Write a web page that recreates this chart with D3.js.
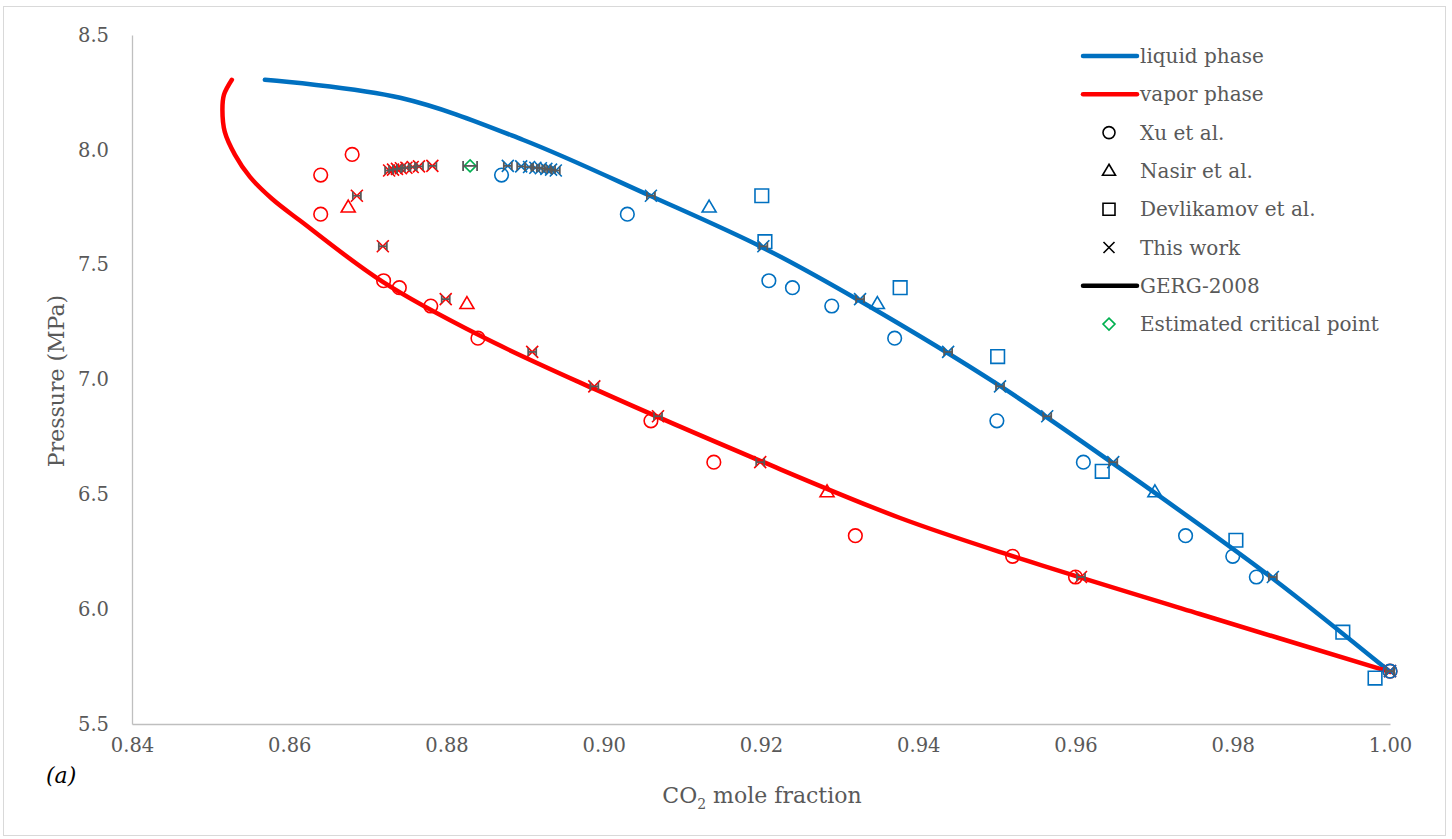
<!DOCTYPE html>
<html>
<head>
<meta charset="utf-8">
<script src="https://cdn.jsdelivr.net/npm/d3@7"></script>
<style>
  html, body { margin: 0; padding: 0; background: #fff; }
  svg { display: block; }
</style>
</head>
<body>
<svg id="chart" width="1452" height="839"></svg>
<script>
// ---------------- DATA ----------------
const xTicks = [0.84, 0.86, 0.88, 0.90, 0.92, 0.94, 0.96, 0.98, 1.00];
const yTicks = [5.5, 6.0, 6.5, 7.0, 7.5, 8.0, 8.5];

// Model curves (liquid / vapor phase)
const liquidX = [0.8569, 0.8741, 0.8897, 0.9059, 0.9203, 0.9326, 0.9504, 0.9701, 0.9850, 1.0000];
const liquidP = [8.305, 8.227, 8.044, 7.800, 7.573, 7.342, 6.972, 6.506, 6.136, 5.727];
const vaporX = [0.8527, 0.8517, 0.8515, 0.8518, 0.8531, 0.8550, 0.8578, 0.8614, 0.8719, 0.8843, 0.8988, 0.9199, 0.9377, 0.9524, 0.9758, 1.0000];
const vaporP = [8.305, 8.240, 8.174, 8.078, 7.978, 7.882, 7.787, 7.691, 7.425, 7.190, 6.959, 6.646, 6.397, 6.227, 5.979, 5.727];

// Xu et al.
const xuP      = [7.98, 7.89, 7.72, 7.43, 7.40, 7.32, 7.18, 6.82, 6.64, 6.32, 6.23, 6.14, 5.73];
const xuVapor  = [0.868, 0.864, 0.864, 0.872, 0.874, 0.878, 0.884, 0.906, 0.914, 0.932, 0.952, 0.960, 1.000];
const xuLiquid = [null, 0.887, 0.903, 0.921, 0.924, 0.929, 0.937, 0.950, 0.961, 0.974, 0.980, 0.983, 1.000];

// Nasir et al.
const nasirP      = [7.75, 7.33, 6.51];
const nasirVapor  = [0.8675, 0.8826, 0.9284];
const nasirLiquid = [0.9134, 0.9348, 0.9701];

// Devlikamov et al.
const devP      = [7.80, 7.60, 7.40, 7.10, 6.60, 6.30, 5.90, 5.70];
const devLiquid = [0.9201, 0.9205, 0.9377, 0.9501, 0.9634, 0.9804, 0.9940, 0.9981];

// This work
const thisP      = [7.930, 7.928, 7.925, 7.922, 7.920, 7.917, 7.914, 7.910, 7.80, 7.58, 7.35, 7.12, 6.97, 6.84, 6.64, 6.14, 5.73];
const thisVapor  = [0.8782, 0.8765, 0.8757, 0.8749, 0.8742, 0.8737, 0.8732, 0.8727, 0.8686, 0.8719, 0.8799, 0.8909, 0.8988, 0.9069, 0.9199, 0.9607, 1.000];
const thisLiquid = [0.8878, 0.8895, 0.8905, 0.8913, 0.8920, 0.8927, 0.8933, 0.8939, 0.9060, 0.9203, 0.9326, 0.9438, 0.9504, 0.9564, 0.9648, 0.9851, 1.000];

// Estimated critical point
const critX = [0.8830];
const critP = [7.93];

const legendLabels = ["liquid phase", "vapor phase", "Xu et al.", "Nasir et al.", "Devlikamov et al.", "This work", "GERG-2008", "Estimated critical point"];

// ---------------- STYLE ----------------
const BLUE = "#0070C0", RED = "#FF0000", GRAY = "#595959", GREEN = "#00B050";
const FONT = "DejaVu Serif";

const svg = d3.select("#chart");
const x = d3.scaleLinear().domain([0.84, 1.00]).range([132, 1390]);
const y = d3.scaleLinear().domain([5.5, 8.5]).range([724, 35]);

// outer border
svg.append("rect").attr("x", 3.5).attr("y", 6.5).attr("width", 1442).attr("height", 829)
  .attr("fill", "none").attr("stroke", "#d9d9d9").attr("stroke-width", 1);

// axes
const xAxis = svg.append("g").attr("transform", `translate(0,${y(5.5)})`)
  .call(d3.axisBottom(x).tickValues(xTicks).tickFormat(d3.format(".2f")).tickSize(0).tickPadding(14));
const yAxis = svg.append("g").attr("transform", `translate(${x(0.84)},0)`)
  .call(d3.axisLeft(y).tickValues(yTicks).tickFormat(d3.format(".1f")).tickSize(0).tickPadding(23));
[xAxis, yAxis].forEach(g => {
  g.select(".domain").attr("stroke", "#bfbfbf").attr("stroke-width", 1.3);
  g.selectAll("text").attr("font-family", FONT).attr("font-size", 19.5).attr("fill", GRAY);
});

// axis titles
svg.append("text").attr("x", 762).attr("y", 803).attr("text-anchor", "middle")
  .attr("font-family", FONT).attr("font-size", 22).attr("fill", GRAY)
  .call(t => { t.append("tspan").text("CO");
               t.append("tspan").attr("font-size", 14).attr("dy", 6).text("2");
               t.append("tspan").attr("dy", -6).text(" mole fraction"); });
svg.append("text").attr("transform", `translate(64,${381}) rotate(-90)`).attr("text-anchor", "middle")
  .attr("font-family", FONT).attr("font-size", 22).attr("fill", GRAY).text("Pressure (MPa)");
svg.append("text").attr("x", 46).attr("y", 783).attr("font-family", FONT).attr("font-style", "italic")
  .attr("font-size", 22).attr("fill", "#000").text("(a)");

// ---------------- SYMBOLS ----------------
const symCircle = { draw(c, s) { const r = s; c.moveTo(r, 0); c.arc(0, 0, r, 0, 2 * Math.PI); } };
const symSquare = { draw(c, s) { c.rect(-s, -s, 2 * s, 2 * s); } };
const symTri = { draw(c, s) { const h = s * 1.7; c.moveTo(0, -h * 0.6); c.lineTo(s, h * 0.4); c.lineTo(-s, h * 0.4); c.closePath(); } };
const symX = { draw(c, s) { c.moveTo(-s, -s); c.lineTo(s, s); c.moveTo(s, -s); c.lineTo(-s, s); } };
const symDiamond = { draw(c, s) { c.moveTo(0, -s); c.lineTo(s, 0); c.lineTo(0, s); c.lineTo(-s, 0); c.closePath(); } };

function pts(xs, ps) { return xs.map((v, i) => ({ x: v, p: ps[i] })).filter(d => d.x != null); }

const markers = svg.append("g");
function drawMarkers(data, type, size, color, sw) {
  markers.selectAll(null).data(data).enter().append("path")
    .attr("transform", d => `translate(${x(d.x)},${y(d.p)})`)
    .attr("d", d3.symbol().type(type).size(size))
    .attr("fill", "none").attr("stroke", color).attr("stroke-width", sw);
}
drawMarkers(pts(xuVapor, xuP), symCircle, 6.8, RED, 1.6);
drawMarkers(pts(xuLiquid, xuP), symCircle, 6.8, BLUE, 1.6);
drawMarkers(pts(nasirVapor, nasirP), symTri, 7, RED, 1.6);
drawMarkers(pts(nasirLiquid, nasirP), symTri, 7, BLUE, 1.6);
drawMarkers(pts(devLiquid, devP), symSquare, 6.8, BLUE, 1.6);
drawMarkers(pts(thisVapor, thisP), symX, 6, RED, 1.6);
drawMarkers(pts(thisLiquid, thisP), symX, 6, BLUE, 1.6);

// ---------------- CURVES ----------------
const line = d3.line().x(d => x(d.x)).y(d => y(d.p)).curve(d3.curveCatmullRom.alpha(0.5));
svg.append("path").datum(pts(liquidX, liquidP)).attr("d", line)
  .attr("fill", "none").attr("stroke", BLUE).attr("stroke-width", 4.5).attr("stroke-linecap", "round");
svg.append("path").datum(pts(vaporX, vaporP)).attr("d", line)
  .attr("fill", "none").attr("stroke", RED).attr("stroke-width", 4.5).attr("stroke-linecap", "round");

// critical point
drawMarkers(pts(critX, critP), symDiamond, 6, GREEN, 1.6);
markers.raise();

// ---------------- ERROR BARS ----------------
const eb = svg.append("g").attr("stroke", GRAY).attr("stroke-width", 1.8);
function errBars(data, hw, ch) {
  data.forEach(d => {
    const cx = x(d.x), cy = y(d.p);
    eb.append("line").attr("x1", cx - hw).attr("x2", cx + hw).attr("y1", cy).attr("y2", cy);
    eb.append("line").attr("x1", cx - hw).attr("x2", cx - hw).attr("y1", cy - ch).attr("y2", cy + ch);
    eb.append("line").attr("x1", cx + hw).attr("x2", cx + hw).attr("y1", cy - ch).attr("y2", cy + ch);
  });
}
errBars(pts(thisVapor, thisP), 4, 4);
errBars(pts(thisLiquid, thisP), 4, 4);
errBars(pts(critX, critP), 7, 5);

// ---------------- LEGEND ----------------
const lg = svg.append("g").attr("transform", "translate(1083,56)");
const rowH = 38.3;
legendLabels.forEach((lab, i) => {
  const gy = i * rowH;
  const row = lg.append("g").attr("transform", `translate(0,${gy})`);
  if (i === 0 || i === 1 || i === 6) {
    row.append("line").attr("x1", 0).attr("x2", 54).attr("y1", 0).attr("y2", 0)
      .attr("stroke", i === 0 ? BLUE : i === 1 ? RED : "#000").attr("stroke-width", 4.5).attr("stroke-linecap", "round");
  } else {
    const type = i === 2 ? symCircle : i === 3 ? symTri : i === 4 ? symSquare : i === 5 ? symX : symDiamond;
    const sz = i === 2 ? 6 : i === 3 ? 6.5 : i === 4 ? 6 : i === 5 ? 5.5 : 6;
    row.append("path").attr("transform", "translate(26,0)")
      .attr("d", d3.symbol().type(type).size(sz))
      .attr("fill", "none").attr("stroke", i === 7 ? GREEN : "#000").attr("stroke-width", 1.6);
  }
  row.append("text").attr("x", 57).attr("y", 0).attr("dy", "0.35em")
    .attr("font-family", FONT).attr("font-size", 20).attr("fill", GRAY).text(lab);
});
</script>
</body>
</html>
